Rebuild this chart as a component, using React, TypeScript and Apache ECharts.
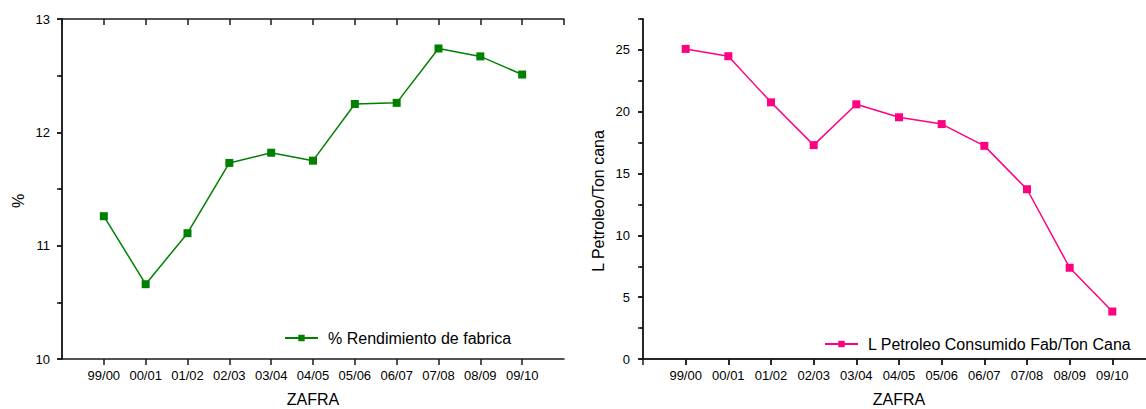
import React, { useEffect, useRef } from "react";
import * as echarts from "echarts";

const categories = ["99/00", "00/01", "01/02", "02/03", "03/04", "04/05", "05/06", "06/07", "07/08", "08/09", "09/10"];
const rendimiento = [11.26, 10.66, 11.11, 11.73, 11.82, 11.75, 12.25, 12.26, 12.74, 12.67, 12.51];
const petroleo = [25.08, 24.49, 20.76, 17.3, 20.6, 19.55, 19.0, 17.24, 13.73, 7.38, 3.84];

const nameRend = "% Rendimiento de fabrica";
const namePet = "L Petroleo Consumido Fab/Ton Cana";

const FONT = "Liberation Sans, Arial, Helvetica, sans-serif";
const AXIS_COLOR = "#1a1a1a";
const GREEN = "#008000";
const PINK = "#FF0080";

export default function App() {
  const ref = useRef<HTMLDivElement>(null);
  useEffect(() => {
    if (!ref.current) return;
    const chart = echarts.init(ref.current, undefined, { renderer: "svg" });
    const lineStyle = { color: AXIS_COLOR, width: 1.5 };
    const xBottom = (gridIndex: number) => ({
      type: "value",
      gridIndex,
      position: "bottom",
      min: 0,
      max: 12,
      interval: 1,
      name: "ZAFRA",
      nameLocation: "middle",
      nameGap: 32,
      nameTextStyle: { fontSize: 16, color: "#000", fontFamily: FONT },
      axisLine: { show: true, lineStyle },
      axisTick: { show: true, inside: false, length: 6, lineStyle },
      axisLabel: {
        show: true,
        margin: 10,
        fontSize: 13,
        color: "#000",
        fontFamily: FONT,
        showMinLabel: false,
        showMaxLabel: false,
        formatter: (v: number) => categories[v - 1] ?? "",
      },
      splitLine: { show: false },
    });
    const xTop = (gridIndex: number) => ({
      type: "value",
      gridIndex,
      position: "top",
      min: 0,
      max: 12,
      interval: 1,
      axisLine: { show: true, lineStyle },
      axisTick: { show: true, inside: true, length: 6, lineStyle },
      axisLabel: { show: false },
      splitLine: { show: false },
    });
    const option: any = {
      animation: false,
      backgroundColor: "#fff",
      textStyle: { fontFamily: FONT },
      grid: [
        { left: 62, top: 19, width: 502, height: 340, containLabel: false, outerBoundsMode: "none" },
        { left: 643, top: 19, width: 512, height: 340, containLabel: false, outerBoundsMode: "none" },
      ],
      xAxis: [xBottom(0), xTop(0), xBottom(1), xTop(1)],
      yAxis: [
        {
          type: "value",
          gridIndex: 0,
          position: "left",
          min: 10,
          max: 13,
          interval: 1,
          name: "%",
          nameLocation: "middle",
          nameGap: 36,
          nameRotate: 90,
          nameTextStyle: { fontSize: 16, color: "#000", fontFamily: FONT, padding: [0, 24, 0, 0] },
          axisLine: { show: true, lineStyle },
          axisTick: { show: true, inside: false, length: 5, lineStyle },
          minorTick: { show: true, splitNumber: 2, length: 3, lineStyle },
          axisLabel: { margin: 12, fontSize: 13, color: "#000", fontFamily: FONT },
          splitLine: { show: false },
        },
        {
          type: "value",
          gridIndex: 0,
          position: "right",
          min: 10,
          max: 13,
          interval: 0.5,
          axisLine: { show: true, lineStyle },
          axisTick: { show: true, inside: true, length: 5, lineStyle },
          axisLabel: { show: false },
          splitLine: { show: false },
        },
        {
          type: "value",
          gridIndex: 1,
          position: "left",
          min: 0,
          max: 27.5,
          interval: 5,
          name: "L Petroleo/Ton cana",
          nameLocation: "middle",
          nameGap: 37,
          nameRotate: 90,
          nameTextStyle: { fontSize: 16, color: "#000", fontFamily: FONT, padding: [0, 24, 0, 0] },
          axisLine: { show: true, lineStyle },
          axisTick: { show: true, inside: false, length: 5, lineStyle },
          axisLabel: { margin: 13, fontSize: 13, color: "#000", fontFamily: FONT, showMaxLabel: false },
          splitLine: { show: false },
        },
        {
          type: "value",
          gridIndex: 1,
          position: "right",
          min: 0,
          max: 27.5,
          interval: 2.5,
          axisLine: { show: true, lineStyle },
          axisTick: { show: true, inside: true, length: 5, lineStyle },
          axisLabel: { show: false },
          splitLine: { show: false },
        },
        {
          type: "value",
          gridIndex: 1,
          position: "left",
          offset: 0,
          min: 0,
          max: 27.5,
          interval: 2.5,
          axisLine: { show: false },
          axisTick: { show: true, inside: false, length: 3, lineStyle },
          axisLabel: { show: false },
          splitLine: { show: false },
        },
      ],
      legend: [
        {
          data: [nameRend],
          left: 284,
          top: 330,
          padding: 0,
          itemWidth: 33,
          itemHeight: 8,
          textStyle: { fontSize: 16, color: "#000", fontFamily: FONT, padding: [0, 0, 0, 5] },
        },
        {
          data: [namePet],
          left: 824,
          top: 336,
          padding: 0,
          itemWidth: 33,
          itemHeight: 8,
          textStyle: { fontSize: 16, color: "#000", fontFamily: FONT, padding: [0, 0, 0, 5] },
        },
      ],
      series: [
        {
          name: nameRend,
          type: "line",
          xAxisIndex: 0,
          yAxisIndex: 0,
          data: rendimiento.map((v, i) => [i + 1, v]),
          symbol: "rect",
          symbolSize: 8,
          lineStyle: { color: GREEN, width: 1.5 },
          itemStyle: { color: GREEN },
        },
        {
          name: namePet,
          type: "line",
          xAxisIndex: 2,
          yAxisIndex: 2,
          data: petroleo.map((v, i) => [i + 1, v]),
          symbol: "rect",
          symbolSize: 8,
          lineStyle: { color: PINK, width: 1.5 },
          itemStyle: { color: PINK },
        },
      ],
    };
    chart.setOption(option);
    return () => chart.dispose();
  }, []);
  return (
    <div
      ref={ref}
      style={{ position: "absolute", left: 0, top: 0, width: 1146, height: 409, background: "#fff" }}
    />
  );
}
